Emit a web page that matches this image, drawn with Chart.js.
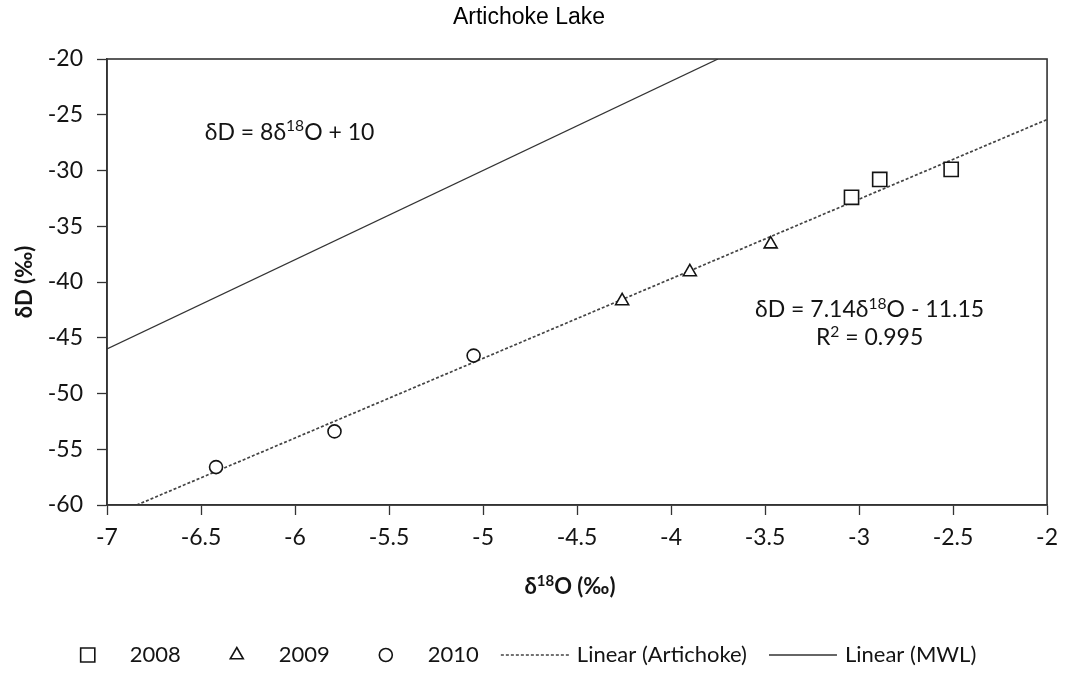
<!DOCTYPE html>
<html>
<head>
<meta charset="utf-8">
<title>Artichoke Lake</title>
<script src="https://cdn.jsdelivr.net/npm/chart.js@4.4.1/dist/chart.umd.min.js"></script>
<style>
	html, body { margin: 0; padding: 0; background: #fff; }
</style>
</head>
<body>
<canvas id="isotope-chart" width="1067" height="673"></canvas>
<script>
// lake water samples by year: delta 18O and delta D, per mil
var o18_2008 = [-3.04, -2.89, -2.51];
var dD_2008  = [-32.4, -30.8, -29.9];
var o18_2009 = [-4.26, -3.90, -3.47];
var dD_2009  = [-41.7, -39.1, -36.6];
var o18_2010 = [-6.42, -5.79, -5.05];
var dD_2010  = [-56.6, -53.4, -46.6];

// [slope, intercept] of the lake regression and the meteoric water line
var fitArtichoke = [7.14, -11.15];
var r2Artichoke = 0.995;
var fitMWL = [8, 10];

var xTicks = [-7, -6.5, -6, -5.5, -5, -4.5, -4, -3.5, -3, -2.5, -2];
var yTicks = [-60, -55, -50, -45, -40, -35, -30, -25, -20];

var xMin = xTicks[0], xMax = xTicks[xTicks.length - 1];
var yMin = yTicks[0], yMax = yTicks[yTicks.length - 1];

var FONT = "Lato, 'Open Sans', 'DejaVu Sans', sans-serif";
var INK = '#141414';
var SUP = 0.68;

function toPoints(xs, ys) {
	return xs.map(function (x, i) { return {x: x, y: ys[i]}; });
}

// straight line y = m x + b, cut to the plot window
function lineEnds(fit) {
	var m = fit[0], b = fit[1];
	var x0 = Math.max(xMin, (yMin - b) / m);
	var x1 = Math.min(xMax, (yMax - b) / m);
	return [{x: x0, y: m * x0 + b}, {x: x1, y: m * x1 + b}];
}

function fmt(v) {
	return String(Math.round(v * 100) / 100);
}

// text runs with optional superscripts: parts = [[text, sup, bold], ...]
function drawRich(ctx, parts, x, y, size, align) {
	var setFont = function (p) {
		ctx.font = (p[2] ? 'bold ' : '') + (p[1] ? size * SUP : size) + 'px ' + FONT;
	};
	var widths = parts.map(function (p) {
		setFont(p);
		return ctx.measureText(p[0]).width;
	});
	var total = widths.reduce(function (a, b) { return a + b; }, 0);
	var cx = align === 'center' ? x - total / 2 : x;
	ctx.textAlign = 'left';
	ctx.textBaseline = 'middle';
	parts.forEach(function (p, i) {
		setFont(p);
		ctx.fillText(p[0], cx, p[1] ? y - size * 0.27 : y);
		cx += widths[i];
	});
	return total;
}

function equationParts(fit) {
	var b = fit[1];
	var sign = b < 0 ? ' - ' : ' + ';
	return [['δD = ' + fmt(fit[0]) + 'δ'], ['18', true], ['O' + sign + fmt(Math.abs(b))]];
}

var markerStyle = {
	borderColor: INK,
	backgroundColor: '#fff',
	borderWidth: 1.6,
	order: 1
};

var datasets = [
	Object.assign({label: '2008', data: toPoints(o18_2008, dD_2008), pointStyle: 'rect', pointRadius: 10}, markerStyle),
	Object.assign({label: '2009', data: toPoints(o18_2009, dD_2009), pointStyle: 'triangle', pointRadius: 7.5}, markerStyle),
	Object.assign({label: '2010', data: toPoints(o18_2010, dD_2010), pointStyle: 'circle', pointRadius: 6.5}, markerStyle),
	{
		label: 'Linear (Artichoke)',
		data: lineEnds(fitArtichoke),
		showLine: true,
		pointRadius: 0,
		borderColor: '#444',
		borderWidth: 1.7,
		borderDash: [3, 2],
		order: 2
	},
	{
		label: 'Linear (MWL)',
		data: lineEnds(fitMWL),
		showLine: true,
		pointRadius: 0,
		borderColor: '#333',
		borderWidth: 1.3,
		order: 2
	}
];

var decorations = {
	id: 'decorations',
	afterDraw: function (chart) {
		var ctx = chart.ctx;
		var area = chart.chartArea;
		var xs = chart.scales.x, ys = chart.scales.y;

		ctx.save();

		// plot frame
		ctx.strokeStyle = '#333';
		ctx.lineWidth = 1.6;
		ctx.strokeRect(area.left, area.top, area.right - area.left, area.bottom - area.top);

		ctx.fillStyle = '#000';
		ctx.textAlign = 'center';
		ctx.textBaseline = 'middle';
		ctx.font = "23px 'Liberation Sans', Arial, sans-serif";
		ctx.fillText('Artichoke Lake', 529, 18);

		ctx.fillStyle = INK;
		// axis titles
		drawRich(ctx, [['δ', false, true], ['18', true, true], ['O (‰)', false, true]], 570, 587, 22, 'center');
		ctx.save();
		ctx.translate(25, (area.top + area.bottom) / 2);
		ctx.rotate(-Math.PI / 2);
		drawRich(ctx, [['δD (‰)', false, true]], 0, 0, 22, 'center');
		ctx.restore();

		// regression labels
		drawRich(ctx, equationParts(fitMWL), xs.getPixelForValue(-6.48), ys.getPixelForValue(-26.6), 23, 'left');
		var cx = xs.getPixelForValue(-2.944);
		drawRich(ctx, equationParts(fitArtichoke), cx, ys.getPixelForValue(-42.5), 23, 'center');
		drawRich(ctx, [['R'], ['2', true], [' = ' + r2Artichoke]], cx, ys.getPixelForValue(-45.0), 23, 'center');

		// legend
		var symW = 68, gap = 8, itemGap = 22, ly = 655;
		ctx.font = '22px ' + FONT;
		var items = chart.data.datasets.map(function (ds) {
			return {ds: ds, w: symW + gap + ctx.measureText(ds.label).width};
		});
		var total = items.reduce(function (a, it) { return a + it.w; }, 0) + itemGap * (items.length - 1);
		var lx = 515 - total / 2;
		items.forEach(function (it) {
			var ds = it.ds;
			ctx.save();
			ctx.strokeStyle = ds.borderColor;
			ctx.lineWidth = ds.borderWidth;
			if (ds.showLine) {
				ctx.setLineDash(ds.borderDash || []);
				ctx.beginPath();
				ctx.moveTo(lx, ly);
				ctx.lineTo(lx + symW, ly);
				ctx.stroke();
			} else {
				ctx.fillStyle = ds.backgroundColor;
				Chart.helpers.drawPoint(ctx, {pointStyle: ds.pointStyle, radius: ds.pointRadius, rotation: 0, borderWidth: ds.borderWidth}, lx + symW / 2, ly);
			}
			ctx.restore();
			ctx.fillStyle = INK;
			ctx.font = '22px ' + FONT;
			ctx.textAlign = 'left';
			ctx.textBaseline = 'middle';
			ctx.fillText(ds.label, lx + symW + gap, ly);
			lx += it.w + itemGap;
		});

		ctx.restore();
	}
};

function axisOptions(ticks, pos) {
	return {
		type: 'linear',
		position: pos,
		min: ticks[0],
		max: ticks[ticks.length - 1],
		afterBuildTicks: function (scale) {
			scale.ticks = ticks.map(function (v) { return {value: v}; });
		},
		grid: {
			display: true,
			drawOnChartArea: false,
			drawTicks: true,
			tickLength: 10,
			tickColor: '#333',
			tickWidth: 1.3
		},
		border: {display: true, color: '#333', width: 1.6},
		ticks: {
			color: INK,
			font: {family: FONT, size: 23},
			callback: function (v) { return String(v); }
		}
	};
}

var xAxis = axisOptions(xTicks, 'bottom');
xAxis.ticks.padding = 9;
xAxis.ticks.maxRotation = 0;
xAxis.afterFit = function (scale) { scale.height = 168; };

var yAxis = axisOptions(yTicks, 'left');
yAxis.ticks.padding = 14;
yAxis.afterFit = function (scale) { scale.width = 107; };

new Chart('isotope-chart', {
	type: 'scatter',
	data: {datasets: datasets},
	options: {
		responsive: false,
		animation: false,
		devicePixelRatio: 1,
		layout: {padding: {left: 0, right: 19, top: 59, bottom: 0}},
		scales: {x: xAxis, y: yAxis},
		plugins: {
			legend: {display: false},
			tooltip: {enabled: false}
		}
	},
	plugins: [decorations]
});
</script>
</body>
</html>
